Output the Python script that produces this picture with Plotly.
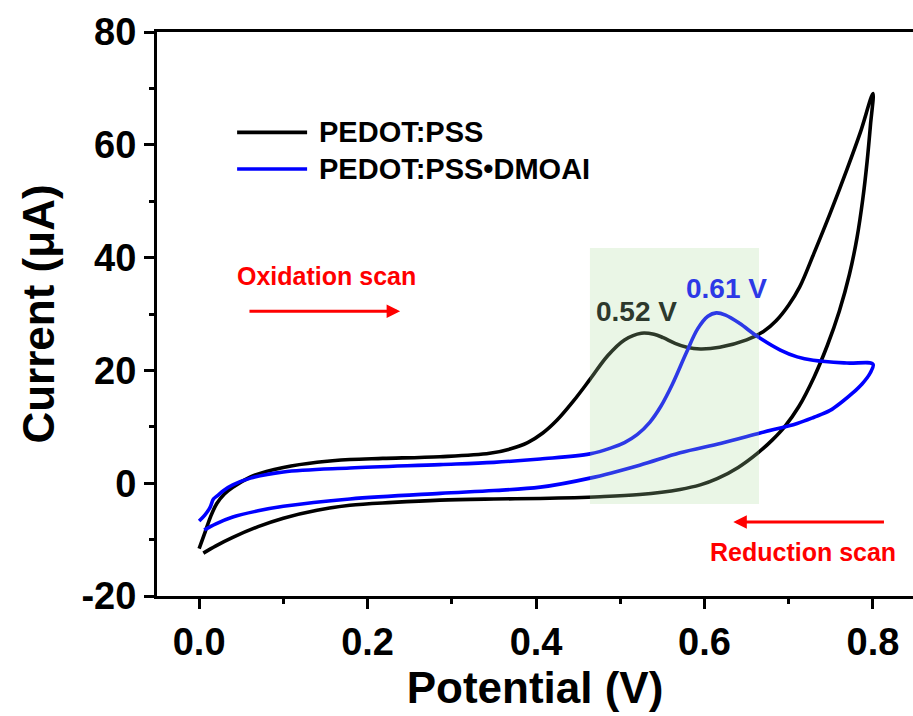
import plotly.graph_objects as go

# Cyclic voltammograms: forward (oxidation) sweep then reverse (reduction) sweep
pedot_v = [0.000, 0.007, 0.014, 0.021, 0.030, 0.040, 0.061, 0.080, 0.100, 0.140,
           0.179, 0.218, 0.286, 0.345, 0.370, 0.390, 0.408, 0.425, 0.444, 0.464,
           0.485, 0.505, 0.525, 0.540, 0.551, 0.565, 0.579, 0.595, 0.618, 0.650,
           0.670, 0.685, 0.700, 0.713, 0.730, 0.749, 0.769, 0.785, 0.800,
           0.797, 0.793, 0.788, 0.781, 0.772, 0.760, 0.746, 0.730, 0.712, 0.695,
           0.680, 0.662, 0.640, 0.615, 0.595, 0.571, 0.523, 0.476, 0.405, 0.350,
           0.286, 0.230, 0.179, 0.140, 0.100, 0.070, 0.040, 0.020, 0.005]
pedot_i = [-11.6, -8.7, -5.8, -3.6, -1.9, -0.7, 1.1, 2.1, 2.8, 3.7,
           4.2, 4.4, 4.7, 5.3, 6.1, 7.2, 8.9, 11.2, 14.5, 18.4,
           22.6, 25.4, 26.6, 26.4, 25.8, 24.8, 24.1, 23.8, 24.1, 25.4,
           26.9, 28.8, 31.6, 34.8, 40.8, 47.8, 55.6, 62.2, 69.1,
           63.5, 57.0, 50.5, 43.5, 37.0, 30.5, 24.5, 18.8, 13.6, 10.0,
           7.6, 5.2, 2.8, 0.8, -0.3, -1.1, -2.0, -2.4, -2.7, -2.8,
           -3.0, -3.4, -3.9, -4.8, -6.2, -7.7, -9.6, -11.1, -12.4]

dmoai_v = [0.000, 0.007, 0.013, 0.017, 0.021, 0.030, 0.040, 0.061, 0.100, 0.179,
           0.286, 0.350, 0.405, 0.464, 0.490, 0.505, 0.520, 0.535, 0.548, 0.562,
           0.578, 0.592, 0.604, 0.614, 0.625, 0.642, 0.662, 0.690, 0.710, 0.729,
           0.769, 0.800,
           0.7965, 0.787, 0.776, 0.763, 0.749, 0.730, 0.710, 0.666, 0.620, 0.571,
           0.523, 0.464, 0.405, 0.350, 0.286, 0.179, 0.100, 0.070, 0.040, 0.020,
           0.006]
dmoai_i = [-6.7, -5.6, -4.3, -2.8, -2.3, -1.2, -0.3, 0.9, 2.0, 2.7,
           3.3, 3.7, 4.3, 5.2, 6.3, 7.2, 8.6, 10.8, 13.6, 17.6,
           23.0, 27.4, 29.6, 30.2, 29.8, 28.3, 26.1, 23.6, 22.4, 21.8,
           21.3, 21.1,
           19.5, 17.6, 16.0, 14.4, 12.9, 11.7, 10.6, 8.9, 7.1, 5.4,
           3.2, 0.9, -0.7, -1.3, -1.8, -2.8, -4.1, -4.9, -6.0, -7.2,
           -8.3]

series_names = ["PEDOT:PSS", "PEDOT:PSS\u2022DMOAI"]
series_colors = ["#000000", "#0000FF"]

# Peak positions marked on the plot
peak_labels = ["0.52 V", "0.61 V"]
peak_label_pos = [(0.519, 30.5), (0.626, 34.6)]
peak_label_colors = ["#2D392D", "#2D39E6"]

# Highlighted peak window
window_v = (0.464, 0.6647)
window_i = (-3.7, 41.7)

x_ticks = [0.0, 0.2, 0.4, 0.6, 0.8]
x_ticktext = ["0.0", "0.2", "0.4", "0.6", "0.8"]
y_ticks = [-20, 0, 20, 40, 60, 80]
y_ticktext = ["-20", "0", "20", "40", "60", "80"]

FONT = "Liberation Sans, Arial, sans-serif"

fig = go.Figure()
for v, i, name, color in zip([pedot_v, dmoai_v], [pedot_i, dmoai_i],
                             series_names, series_colors):
    fig.add_trace(go.Scatter(
        x=v, y=i, mode="lines", name=name, showlegend=False,
        line=dict(color=color, width=3.6, shape="spline", smoothing=1.0),
    ))

# Translucent green band over the redox peaks
fig.add_shape(type="rect", xref="x", yref="y",
              x0=window_v[0], x1=window_v[1], y0=window_i[0], y1=window_i[1],
              fillcolor="rgba(173,220,158,0.26)", line=dict(width=0),
              layer="above")

# Hand-drawn legend: long line samples with bold labels
legend_x = (0.0451, 0.1282)
legend_y = [62.2, 55.7]
for name, color, ly in zip(series_names, series_colors, legend_y):
    fig.add_shape(type="line", xref="x", yref="y",
                  x0=legend_x[0], x1=legend_x[1], y0=ly, y1=ly,
                  line=dict(color=color, width=3.6))
    fig.add_annotation(x=0.140, y=ly, xref="x", yref="y", text=name,
                       showarrow=False, xanchor="left", yanchor="middle",
                       font=dict(family=FONT, size=29, color="#000000",
                                 weight="bold"))

for text, (px, py), color in zip(peak_labels, peak_label_pos, peak_label_colors):
    fig.add_annotation(x=px, y=py, xref="x", yref="y", text=text,
                       showarrow=False,
                       font=dict(family=FONT, size=28, color=color,
                                 weight="bold"))

# Scan direction arrows and captions
red = "#FF0000"
fig.add_annotation(x=0.2386, y=30.5, ax=0.058, ay=30.5,
                   xref="x", yref="y", axref="x", ayref="y", text="",
                   showarrow=True, arrowhead=2, arrowsize=0.9, arrowwidth=3,
                   arrowcolor=red, standoff=0)
fig.add_annotation(x=0.1507, y=36.7, xref="x", yref="y",
                   text="Oxidation scan", showarrow=False,
                   font=dict(family=FONT, size=25, color=red, weight="bold"))
fig.add_annotation(x=0.6342, y=-6.9, ax=0.8148, ay=-6.9,
                   xref="x", yref="y", axref="x", ayref="y", text="",
                   showarrow=True, arrowhead=2, arrowsize=0.9, arrowwidth=3,
                   arrowcolor=red, standoff=0)
fig.add_annotation(x=0.717, y=-12.2, xref="x", yref="y",
                   text="Reduction scan", showarrow=False,
                   font=dict(family=FONT, size=25, color=red, weight="bold"))

axis_common = dict(
    showgrid=False, zeroline=False, showline=True, linecolor="#000000",
    linewidth=3, ticks="outside", ticklen=10, tickwidth=3,
    tickcolor="#000000",
    tickfont=dict(family=FONT, size=38, color="#000000", weight="bold"),
    title_font=dict(family=FONT, size=44, color="#000000", weight="bold"),
)

fig.update_xaxes(
    range=[-0.05, 0.8475], tickvals=x_ticks, ticktext=x_ticktext, mirror=True,
    minor=dict(dtick=0.1, tick0=0, ticks="outside", ticklen=5, tickwidth=3,
               tickcolor="#000000"),
    title=dict(text="Potential (V)", standoff=6),
    **axis_common,
)
fig.update_yaxes(
    range=[-20, 80], tickvals=y_ticks, ticktext=y_ticktext,
    minor=dict(dtick=10, tick0=0, ticks="outside", ticklen=5, tickwidth=3,
               tickcolor="#000000"),
    title=dict(text="Current (\u03bcA)", standoff=14),
    **axis_common,
)

fig.update_layout(
    width=913, height=716,
    margin=dict(l=157, r=0, t=32, b=120),
    plot_bgcolor="#FFFFFF", paper_bgcolor="#FFFFFF",
    showlegend=False,
)

fig.write_html("out.html")
